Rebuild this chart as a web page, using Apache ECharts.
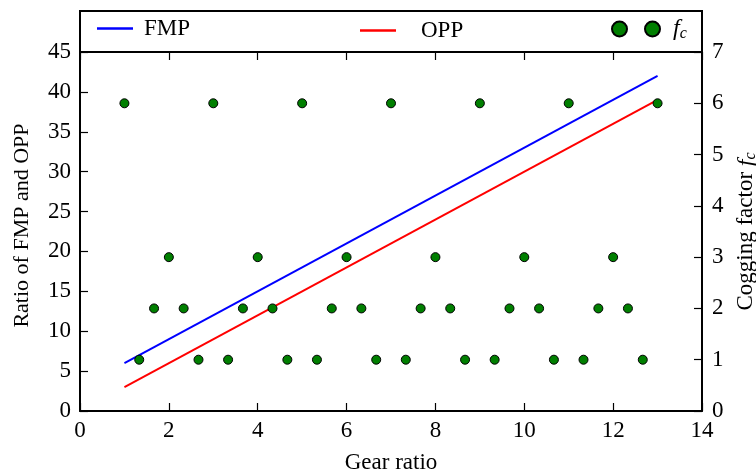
<!DOCTYPE html>
<html>
<head>
<meta charset="utf-8">
<script src="https://cdn.jsdelivr.net/npm/echarts@6/dist/echarts.min.js"></script>
<style>html,body{margin:0;padding:0;background:#fff;}#c{width:756px;height:475px;}</style>
</head>
<body>
<div id="c"></div>
<script>
var lineX = [1, 13];
var fmpValues = [6, 42];
var oppValues = [3, 39];
var gearRatios = [1, 1.333, 1.667, 2, 2.333, 2.667, 3, 3.333, 3.667, 4, 4.333, 4.667,
  5, 5.333, 5.667, 6, 6.333, 6.667, 7, 7.333, 7.667, 8, 8.333, 8.667,
  9, 9.333, 9.667, 10, 10.333, 10.667, 11, 11.333, 11.667, 12, 12.333, 12.667, 13];
var fcValues = [6, 1, 2, 3, 2, 1, 6, 1, 2, 3, 2, 1,
  6, 1, 2, 3, 2, 1, 6, 1, 2, 3, 2, 1,
  6, 1, 2, 3, 2, 1, 6, 1, 2, 3, 2, 1, 6];
var xTicks = [0, 14, 2];
var yLeftTicks = [0, 45, 5];
var yRightTicks = [0, 7, 1];

var FONT = 'Liberation Serif';
var FS = 23;
var chart = echarts.init(document.getElementById('c'));
function pairs(xs, ys) { return xs.map(function (x, i) { return [x, ys[i]]; }); }
var axisLine = { show: true, onZero: false, lineStyle: { color: '#000', width: 2 } };
var tickStyle = { show: true, inside: true, length: 8, lineStyle: { color: '#000', width: 1.2 } };
var labelStyle = { color: '#000', fontFamily: FONT, fontSize: FS };
var lineIcon = 'path://M0,0L36,0L36,2.4L0,2.4Z';
var fcRich = {
  i: { fontFamily: FONT, fontStyle: 'italic', fontSize: FS + 1, color: '#000' },
  s: { fontFamily: FONT, fontStyle: 'italic', fontSize: 16, color: '#000', verticalAlign: 'bottom', padding: [9, 0, 0, 0] }
};

chart.setOption({
  animation: false,
  backgroundColor: '#fff',
  grid: { left: 80, right: 54, top: 52, bottom: 64, show: false, containLabel: false, outerBoundsMode: 'none' },
  graphic: [{
    type: 'rect', z: 100,
    shape: { x: 80, y: 11, width: 622, height: 41 },
    style: { fill: 'none', stroke: '#000', lineWidth: 2 }
  }],
  legend: [
    { data: ['FMP'], left: 97, top: 17, padding: 0, itemWidth: 36, itemHeight: 2.4, icon: lineIcon,
      textStyle: { fontFamily: FONT, fontSize: FS, color: '#000', padding: [0, 0, 0, 6] } },
    { data: ['OPP'], left: 360, top: 19, padding: 0, itemWidth: 36, itemHeight: 2.4, icon: lineIcon,
      textStyle: { fontFamily: FONT, fontSize: FS, color: '#000', padding: [0, 0, 0, 20] } },
    { data: ['fc'], left: 611, top: 17, padding: 0, itemWidth: 48, itemHeight: 15,
      icon: 'path://M0,7.5a7.5,7.5 0 1,0 15,0a7.5,7.5 0 1,0 -15,0zM33,7.5a7.5,7.5 0 1,0 15,0a7.5,7.5 0 1,0 -15,0z',
      formatter: function () { return '{i|f}{s|c}'; },
      textStyle: { fontFamily: FONT, fontSize: FS, color: '#000', padding: [0, 0, 0, 8], rich: fcRich } }
  ],
  xAxis: [{
    type: 'value', position: 'bottom', min: xTicks[0], max: xTicks[1], interval: xTicks[2],
    name: 'Gear ratio', nameLocation: 'middle', nameGap: 40,
    nameTextStyle: { fontFamily: FONT, fontSize: FS, color: '#000' },
    axisLine: axisLine, axisTick: tickStyle,
    axisLabel: Object.assign({ margin: 8 }, labelStyle), splitLine: { show: false }
  }, {
    type: 'value', position: 'top', min: xTicks[0], max: xTicks[1], interval: xTicks[2],
    axisLine: axisLine, axisTick: tickStyle,
    axisLabel: { show: false }, splitLine: { show: false }
  }],
  yAxis: [{
    type: 'value', position: 'left', min: yLeftTicks[0], max: yLeftTicks[1], interval: yLeftTicks[2],
    name: 'Ratio of FMP and OPP', nameLocation: 'middle', nameGap: 47, nameRotate: 90,
    nameTextStyle: { fontFamily: FONT, fontSize: FS - 1, color: '#000', padding: [0, 0, 0, 12] },
    axisLine: axisLine, axisTick: tickStyle,
    axisLabel: Object.assign({ margin: 9 }, labelStyle), splitLine: { show: false }
  }, {
    type: 'value', position: 'right', min: yRightTicks[0], max: yRightTicks[1], interval: yRightTicks[2],
    name: 'Cogging factor {i|f}{s|c}', nameLocation: 'middle', nameGap: 29, nameRotate: 90,
    nameTextStyle: { fontFamily: FONT, fontSize: FS, color: '#000', rich: fcRich },
    axisLine: axisLine, axisTick: tickStyle,
    axisLabel: Object.assign({ margin: 10 }, labelStyle), splitLine: { show: false }
  }],
  series: [
    { name: 'FMP', type: 'line', data: pairs(lineX, fmpValues), symbol: 'none',
      lineStyle: { color: '#0000ff', width: 2 }, itemStyle: { color: '#0000ff' }, z: 2 },
    { name: 'OPP', type: 'line', data: pairs(lineX, oppValues), symbol: 'none',
      lineStyle: { color: '#ff0000', width: 2 }, itemStyle: { color: '#ff0000' }, z: 2 },
    { name: 'fc', type: 'scatter', yAxisIndex: 1, data: pairs(gearRatios, fcValues),
      symbolSize: 9, itemStyle: { color: '#007f00', borderColor: '#000', borderWidth: 1, opacity: 1 }, z: 5 }
  ]
});
</script>
</body>
</html>
